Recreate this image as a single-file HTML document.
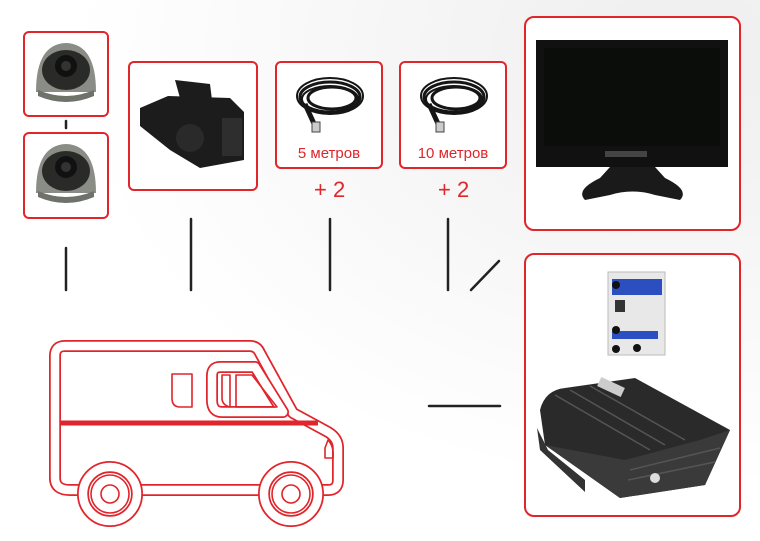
<!DOCTYPE html>
<html><head><meta charset="utf-8"><style>
html,body{margin:0;padding:0;background:#fff;}
body{width:760px;height:541px;position:relative;overflow:hidden;font-family:"Liberation Sans",sans-serif;}
.b{position:absolute;border:2px solid #e0252b;border-radius:6px;box-sizing:border-box;background:#fff;}
.t{position:absolute;color:#e0252b;font-size:15px;text-align:center;}
.p{position:absolute;color:#e0252b;font-size:22px;}
</style></head><body>
<svg width="760" height="541" style="position:absolute;left:0;top:0">
<defs>
<radialGradient id="bg" cx="0.9" cy="0.1" r="0.8"><stop offset="0" stop-color="#eeeeee"/><stop offset="1" stop-color="#ffffff"/></radialGradient>
</defs>
<rect width="760" height="541" fill="url(#bg)"/>
<g stroke="#222" stroke-width="2.5" stroke-linecap="round">
<line x1="66" y1="248" x2="66" y2="290"/>
<line x1="191" y1="219" x2="191" y2="290"/>
<line x1="330" y1="219" x2="330" y2="290"/>
<line x1="448" y1="219" x2="448" y2="290"/>
<line x1="499" y1="261" x2="471" y2="290"/>
<line x1="429" y1="406" x2="500" y2="406"/>
<line x1="66" y1="121" x2="66" y2="128"/>
</g>
</svg>
<div class="b" style="left:23px;top:31px;width:86px;height:86px"></div>
<div class="b" style="left:23px;top:132px;width:86px;height:87px"></div>
<div class="b" style="left:128px;top:61px;width:130px;height:130px"></div>
<div class="b" style="left:275px;top:61px;width:108px;height:108px"></div>
<div class="b" style="left:399px;top:61px;width:108px;height:108px"></div>
<div class="b" style="left:524px;top:16px;width:217px;height:215px;border-radius:10px"></div>
<div class="b" style="left:524px;top:253px;width:217px;height:264px;border-radius:10px"></div>
<div class="t" style="left:275px;top:145px;width:108px">5 метров</div>
<div class="t" style="left:399px;top:145px;width:108px">10 метров</div>
<div class="p" style="left:314px;top:177px">+ 2</div>
<div class="p" style="left:438px;top:177px">+ 2</div>
<svg width="760" height="541" style="position:absolute;left:0;top:0">
<g id="cam">
<path d="M36,92 Q36,44 66,43 Q96,44 96,92 Z" fill="#8a8d86"/>
<ellipse cx="66" cy="70" rx="24" ry="20" fill="#2a2b28"/>
<circle cx="66" cy="66" r="11" fill="#111"/><circle cx="66" cy="66" r="5" fill="#333"/>
<path d="M38,90 Q66,102 94,90 L94,96 Q66,108 38,96Z" fill="#6f716b"/>
</g>
<use href="#cam" y="101"/>
<g fill="#1c1c1c">
<path d="M175,80 L210,84 L212,100 L180,98Z"/>
<path d="M140,108 L168,96 L230,98 L244,112 L244,160 L200,168 L170,150 L140,126Z"/>
<circle cx="190" cy="138" r="14" fill="#2a2a2a"/>
<rect x="222" y="118" width="20" height="38" fill="#2e2e2e"/>
</g>
<g id="cab" fill="none" stroke="#151515" stroke-width="3">
<ellipse cx="330" cy="97" rx="30" ry="15"/><ellipse cx="332" cy="98" rx="24" ry="11"/>
<ellipse cx="330" cy="96" rx="33" ry="18" stroke-width="2"/>
<ellipse cx="330" cy="99" rx="28" ry="13" stroke-width="2"/>
<path d="M305,104 L316,128" stroke-width="5"/>
<rect x="312" y="122" width="8" height="10" fill="#ccc" stroke="#444" stroke-width="1"/>
</g>
<use href="#cab" x="124"/>
<rect x="536" y="40" width="192" height="127" fill="#111"/>
<rect x="544" y="48" width="176" height="98" fill="#0b0d0b"/>
<rect x="605" y="151" width="42" height="6" fill="#444"/>
<path d="M585,200 Q575,190 600,178 L610,167 L655,167 L665,178 Q690,190 680,200 L655,195 Q632,188 610,195Z" fill="#1a1a1a"/>
<rect x="608" y="272" width="57" height="83" fill="#e8e8e8" stroke="#bbb"/>
<rect x="612" y="279" width="50" height="16" fill="#2b4fc0"/>
<rect x="615" y="300" width="10" height="12" fill="#333"/>
<rect x="612" y="331" width="46" height="8" fill="#2b4fc0"/>
<circle cx="616" cy="285" r="4" fill="#111"/><circle cx="616" cy="330" r="4" fill="#111"/><circle cx="616" cy="349" r="4" fill="#111"/><circle cx="637" cy="348" r="4" fill="#111"/>
<path d="M540,410 Q545,390 565,388 L635,378 L730,430 L705,485 L620,498 L545,445Z" fill="#2a2a2a"/>
<path d="M545,445 L620,498 L705,485 L730,430 L700,440 L625,460Z" fill="#3a3a3a"/>
<g stroke="#555" stroke-width="1.5">
<line x1="555" y1="395" x2="650" y2="450"/><line x1="570" y1="390" x2="665" y2="445"/><line x1="590" y1="386" x2="685" y2="440"/>
<line x1="630" y1="470" x2="720" y2="448"/><line x1="628" y1="480" x2="715" y2="462"/>
</g>
<rect x="598" y="382" width="26" height="10" fill="#ccc" transform="rotate(25 611 387)"/>
<circle cx="655" cy="478" r="5" fill="#ddd"/>
<path d="M537,428 L548,450 L585,480 L585,492 L540,450Z" fill="#333"/>
<g fill="none" stroke-linejoin="round">
<path d="M55,478 L55,356 Q55,346 65,346 L250,346 Q257,346 260,353 L293,413 L328,432 Q338,438 338,448 L338,480 Q338,490 328,490 L70,490 Q55,490 55,478Z" stroke="#e0252b" stroke-width="12"/>
<path d="M55,478 L55,356 Q55,346 65,346 L250,346 Q257,346 260,353 L293,413 L328,432 Q338,438 338,448 L338,480 Q338,490 328,490 L70,490 Q55,490 55,478Z" stroke="#fff" stroke-width="8.5"/>
<path d="M220,367 L255,367 L283,412 L222,412 Q212,412 212,400 L212,376 Q212,367 220,367Z" stroke="#e0252b" stroke-width="12"/>
<path d="M220,367 L255,367 L283,412 L222,412 Q212,412 212,400 L212,376 Q212,367 220,367Z" stroke="#fff" stroke-width="8.5"/>
<g stroke="#e0252b" stroke-width="1.6">
<path d="M172,374 L192,374 L192,407 L180,407 Q172,407 172,398Z"/>
<path d="M222,375 L230,375 L230,407 Q222,405 222,398Z"/>
<path d="M236,375 L252,375 L277,407 L236,407Z"/>
<path d="M328,440 Q334,446 333,458 L325,458 L325,448Z"/>
</g>
<path d="M61,423 L318,423" stroke="#e0252b" stroke-width="5"/>
<g id="wh">
<circle cx="110" cy="494" r="27" fill="#fff" stroke="#e0252b" stroke-width="12"/>
<circle cx="110" cy="494" r="27" stroke="#fff" stroke-width="8.5"/>
<circle cx="110" cy="494" r="19" stroke="#e0252b" stroke-width="1.6"/>
<circle cx="110" cy="494" r="9" stroke="#e0252b" stroke-width="1.6"/>
</g>
<use href="#wh" x="181"/>
</g>
</svg>
</body></html>
